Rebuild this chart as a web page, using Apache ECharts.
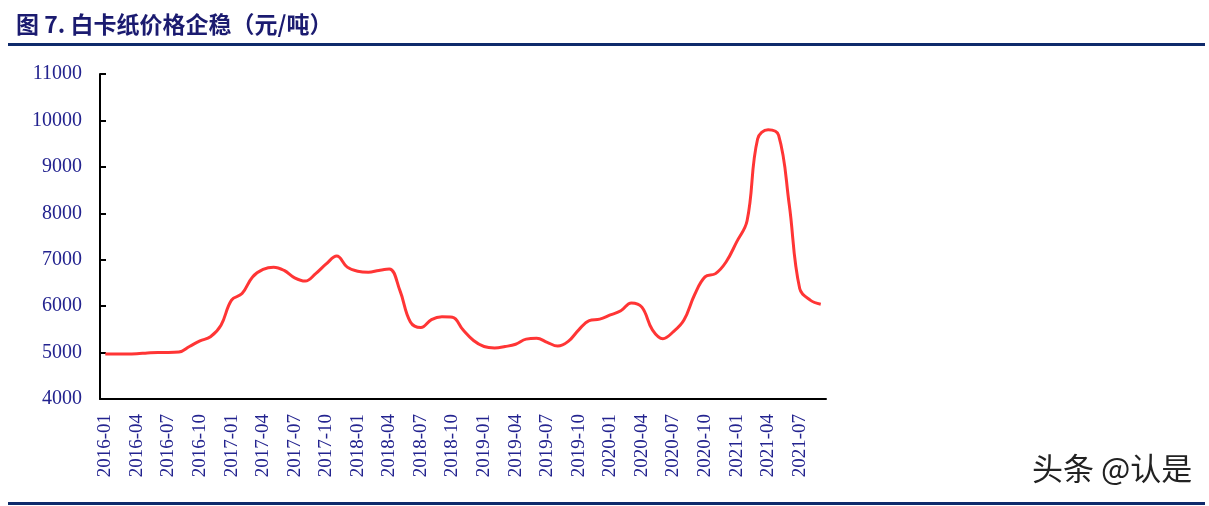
<!DOCTYPE html>
<html>
<head lang="zh">
    <meta charset="UTF-8">
    <title>白卡纸价格企稳</title>
    <script type="text/javascript" src="https://cdn.jsdelivr.net/npm/echarts@6/dist/echarts.min.js"></script>
    <style>
        html, body {margin: 0; padding: 0; background: #fff;}
        #main {width: 1209px; height: 506px;}
    </style>
</head>
<body>
<div id="main"></div>

<script type="text/javascript">
    // 月度类目 2016-01 ~ 2021-09
    var startYear = 2016;
    var monthCount = 69;
    var months = [];
    for (var i = 0; i < monthCount; i++) {
        var y = startYear + Math.floor(i / 12);
        var m = i % 12 + 1;
        months.push(y + '-' + (m < 10 ? '0' + m : m));
    }

    // 白卡纸价格（元/吨）
    var prices = [
        4970, 4970, 4970, 4975, 4990, 5000, 5000, 5010, 5130, 5250, 5340, 5590,
        6130, 6270, 6630, 6790, 6840, 6770, 6610, 6540, 6700, 6910, 7080, 6840,
        6750, 6730, 6770, 6800, 6340, 5660, 5540, 5710, 5770, 5760, 5490, 5260,
        5130, 5100, 5130, 5180, 5290, 5310, 5220, 5140, 5240, 5490, 5690, 5720,
        5810, 5900, 6070, 5980, 5490, 5300, 5450, 5700, 6240, 6630, 6700, 6950,
        7380, 7840, 9600, 9800, 9680, 8200, 6380, 6130, 6040
    ];

    var yTicks = [4000, 11000, 1000]; // min, max, interval

    var labelColor = '#23238f';
    var navy = '#0f2a6b';

    var chart = echarts.init(document.getElementById('main'));
    chart.setOption({
        animation: false,
        title: {
            text: '图 7. 白卡纸价格企稳（元/吨）',
            left: 11,
            top: 8,
            textStyle: {
                fontFamily: 'Noto Sans CJK SC',
                fontSize: 23,
                fontWeight: 'bold',
                color: '#1b1b70'
            }
        },
        grid: {
            left: 100,
            right: 383,
            top: 74,
            bottom: 107
        },
        xAxis: {
            type: 'category',
            data: months,
            boundaryGap: true,
            axisLine: {lineStyle: {color: '#000', width: 2}},
            axisTick: {inside: true, interval: 2, length: 5, lineStyle: {color: '#000', width: 2}},
            axisLabel: {
                interval: 2,
                rotate: 90,
                margin: 15,
                fontFamily: 'Liberation Serif',
                fontSize: 19,
                color: labelColor
            },
            splitLine: {show: false}
        },
        yAxis: {
            type: 'value',
            min: yTicks[0],
            max: yTicks[1],
            interval: yTicks[2],
            axisLine: {show: true, lineStyle: {color: '#000', width: 2}},
            axisTick: {show: true, inside: true, length: 6, lineStyle: {color: '#000', width: 2}},
            axisLabel: {
                margin: 18,
                formatter: function (v) { return String(v); },
                fontFamily: 'Liberation Serif',
                fontSize: 20,
                color: labelColor
            },
            splitLine: {show: false}
        },
        series: [{
            type: 'line',
            data: prices,
            smooth: 0.4,
            symbol: 'none',
            lineStyle: {color: '#ff3535', width: 3}
        }],
        graphic: [
            {
                type: 'rect',
                shape: {x: 8, y: 43, width: 1197, height: 3},
                style: {fill: navy}
            },
            {
                type: 'rect',
                shape: {x: 8, y: 502, width: 1197, height: 3},
                style: {fill: navy}
            },
            {
                type: 'text',
                left: 1032,
                top: 453,
                style: {
                    text: '头条 @认是',
                    font: '31px "Noto Sans CJK SC"',
                    fill: '#222'
                }
            }
        ]
    });
</script>
</body>
</html>
